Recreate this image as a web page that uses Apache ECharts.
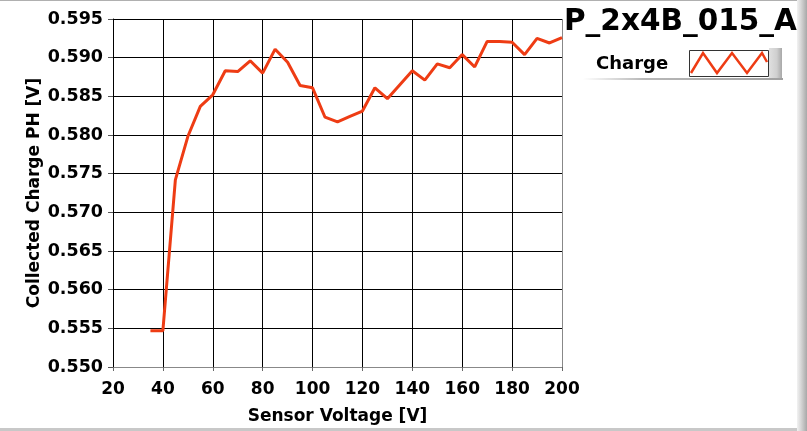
<!DOCTYPE html>
<html>
<head>
<meta charset="utf-8">
<script src="https://cdn.jsdelivr.net/npm/echarts@6/dist/echarts.min.js"></script>
<style>
html,body{margin:0;padding:0;background:#fff;}
#c{width:807px;height:431px;}
</style>
</head>
<body>
<div id="c"></div>
<script>
const titleText = 'P_2x4B_015_A';
const seriesName = 'Charge';
const xName = 'Sensor Voltage [V]';
const yName = 'Collected Charge PH [V]';
const voltages = [35,40,45,50,55,60,65,70,75,80,85,90,95,100,105,110,115,120,125,130,135,140,145,150,155,160,165,170,175,180,185,190,195,200];
const charge = [0.5547,0.5547,0.5742,0.5798,0.5837,0.5852,0.5883,0.5882,0.5896,0.5880,0.5911,0.5894,0.5864,0.5861,0.5823,0.5817,0.5824,0.5831,0.5861,0.5847,0.5865,0.5883,0.5871,0.5892,0.5887,0.5904,0.5888,0.5921,0.5921,0.5920,0.5904,0.5925,0.5919,0.5926];
const xMin = 20, xMax = 200, xStep = 20;
const yMin = 0.550, yMax = 0.595, yStep = 0.005;

const FONT = 'DejaVu Sans';
const RED = '#ee3c14';
const data = voltages.map((v, i) => [v, charge[i]]);

const chart = echarts.init(document.getElementById('c'), null, {renderer: 'canvas'});
chart.setOption({
  backgroundColor: '#fff',
  animation: false,
  grid: {left: 113, right: 245, top: 19, bottom: 64, containLabel: false},
  xAxis: {
    type: 'value', min: xMin, max: xMax, interval: xStep,
    name: xName, nameLocation: 'middle', nameGap: 41, nameMoveOverlap: false,
    nameTextStyle: {fontFamily: FONT, fontWeight: 'bold', fontSize: 17, color: '#000'},
    axisLine: {show: true, lineStyle: {color: '#888', width: 1}},
    axisTick: {show: true, length: 4, lineStyle: {color: '#666'}},
    axisLabel: {margin: 14, fontFamily: FONT, fontWeight: 'bold', fontSize: 17, color: '#000'},
    splitLine: {show: true, lineStyle: {color: ['#000','#000','#000','#000','#000','#000','#000','#000','#000','#888'], width: 1}}
  },
  yAxis: {
    type: 'value', min: yMin, max: yMax, interval: yStep,
    name: yName, nameLocation: 'middle', nameGap: 70, nameRotate: 90, nameMoveOverlap: false,
    nameTextStyle: {fontFamily: FONT, fontWeight: 'bold', fontSize: 17, color: '#000'},
    axisLine: {show: true, lineStyle: {color: '#000', width: 1}},
    axisTick: {show: true, length: 5, lineStyle: {color: '#555'}},
    axisLabel: {margin: 10, fontFamily: FONT, fontWeight: 'bold', fontSize: 17.5, color: '#000',
      formatter: v => v.toFixed(3)},
    splitLine: {show: true, lineStyle: {color: '#000', width: 1}}
  },
  series: [{
    name: seriesName, type: 'line', data: data, symbol: 'none',
    lineStyle: {color: RED, width: 3}, itemStyle: {color: RED}
  }],
  graphic: [
    // window frame
    {type: 'rect', shape: {x: 0, y: 0, width: 807, height: 1}, style: {fill: '#b0b0b0'}, silent: true},
    {type: 'rect', shape: {x: 0, y: 428, width: 807, height: 3}, style: {fill: '#c8c8c8'}, silent: true},
    {type: 'rect', shape: {x: 797, y: 0, width: 10, height: 431}, style: {fill: new echarts.graphic.LinearGradient(0,0,1,0,[{offset:0,color:'#f2f2f2'},{offset:0.4,color:'#d6d6d6'},{offset:1,color:'#a8a8a8'}])}, silent: true},
    // title
    {type: 'text', left: 564, top: 7, style: {text: titleText, fontFamily: FONT, fontWeight: 'bold', fontSize: 29.5, fill: '#000'}, silent: true},
    // legend
    {type: 'rect', shape: {x: 583, y: 78, width: 200, height: 2}, style: {fill: new echarts.graphic.LinearGradient(0,0,1,0,[{offset:0,color:'#ffffff'},{offset:0.3,color:'#b8b8b8'},{offset:1,color:'#a0a0a0'}])}, silent: true},
    {type: 'text', left: 596, top: 55, style: {text: seriesName, fontFamily: FONT, fontWeight: 'bold', fontSize: 18, fill: '#000'}, silent: true},
    {type: 'rect', shape: {x: 769, y: 48, width: 13, height: 30}, style: {fill: new echarts.graphic.LinearGradient(0,0,1,0,[{offset:0,color:'#e0e0e0'},{offset:0.6,color:'#cfcfcf'},{offset:1,color:'#a8a8a8'}])}, silent: true},
    {type: 'rect', shape: {x: 689.5, y: 50.5, width: 79, height: 26}, style: {fill: '#fff', stroke: '#333', lineWidth: 1}, silent: true},
    {type: 'polyline', shape: {points: [[691,73],[703,53],[717,73],[732,53],[747,73],[762,53],[767,62]]}, style: {stroke: RED, lineWidth: 2.5, fill: null}, silent: true}
  ]
});
</script>
</body>
</html>
